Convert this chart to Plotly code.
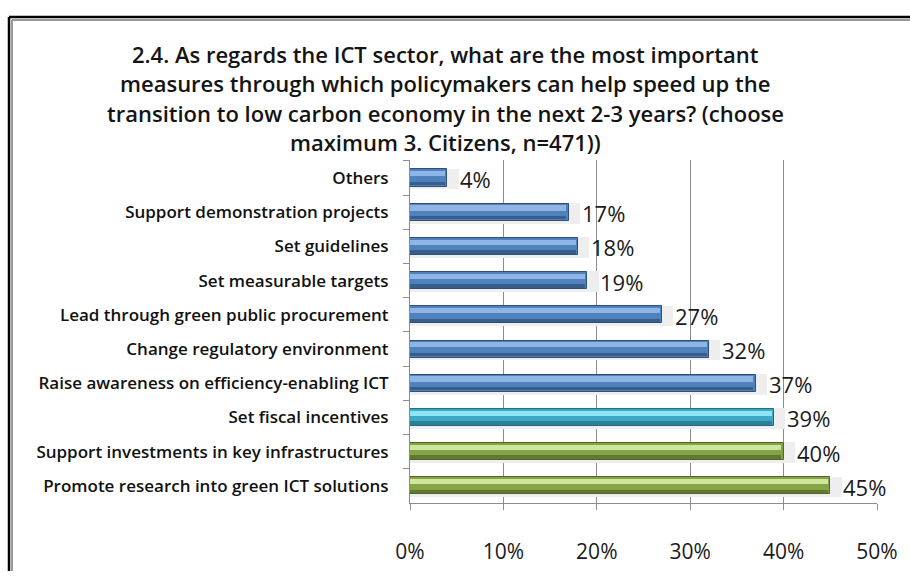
import plotly.graph_objects as go

# Survey answers, listed top to bottom as shown on the chart
categories = [
    "Others",
    "Support demonstration projects",
    "Set guidelines",
    "Set measurable targets",
    "Lead through green public procurement",
    "Change regulatory environment",
    "Raise awareness on efficiency-enabling ICT",
    "Set fiscal incentives",
    "Support investments in key infrastructures",
    "Promote research into green ICT solutions",
]
shares = [4, 17, 18, 19, 27, 32, 37, 39, 40, 45]
x_ticks = [0, 10, 20, 30, 40, 50]
x_tick_labels = ["0%", "10%", "20%", "30%", "40%", "50%"]
title_lines = [
    "2.4. As regards the ICT sector, what are the most important",
    "measures through which policymakers can help speed up the",
    "transition to low carbon economy in the next 2-3 years? (choose",
    "maximum 3. Citizens, n=471))",
]

# --- styling ---------------------------------------------------------------
FONT = "Open Sans, sans-serif"
W, H = 910, 577
M_L, M_R, M_T, M_B = 410, 33, 160, 69
plot_w = W - M_L - M_R
plot_h = H - M_T - M_B


def px_x(p):
    """page pixel x -> paper units"""
    return (p - M_L) / plot_w


def px_y(p):
    """page pixel y (from top) -> paper units"""
    return (H - M_B - p) / plot_h


palette = {
    "blue": dict(mid="#4f81bd", light="#8fb4e6", dark="#385d8a", edge="#2f4f77"),
    "cyan": dict(mid="#3fa9c5", light="#8fe4f5", dark="#2b7f96", edge="#236b7e"),
    "green": dict(mid="#86a34a", light="#cfe79a", dark="#5f7a2e", edge="#4e6626"),
}
bar_groups = ["blue"] * 7 + ["cyan"] + ["green"] * 2

fig = go.Figure()

# soft drop shadow behind each bar
fig.add_trace(go.Bar(
    y=categories, x=[v + 1.2 for v in shares], orientation="h",
    width=0.6, offset=-0.27,
    marker=dict(color="#eeeeee", line=dict(width=0)),
    hoverinfo="skip", showlegend=False,
))
# main body
fig.add_trace(go.Bar(
    y=categories, x=shares, orientation="h",
    width=0.5, offset=-0.25,
    marker=dict(color=[palette[g]["mid"] for g in bar_groups],
                line=dict(color=[palette[g]["edge"] for g in bar_groups], width=1)),
    showlegend=False,
))
# light upper bevel
fig.add_trace(go.Bar(
    y=categories, x=[v - 0.25 for v in shares], orientation="h",
    width=0.15, offset=-0.2,
    marker=dict(color=[palette[g]["light"] for g in bar_groups], line=dict(width=0)),
    hoverinfo="skip", showlegend=False,
))
# darker lower bevel
fig.add_trace(go.Bar(
    y=categories, x=[v - 0.25 for v in shares], orientation="h",
    width=0.1, offset=0.11,
    marker=dict(color=[palette[g]["dark"] for g in bar_groups], line=dict(width=0)),
    hoverinfo="skip", showlegend=False,
))

# value labels to the right of each bar
for cat, v in zip(categories, shares):
    fig.add_annotation(
        x=v, y=cat, xref="x", yref="y", text=f"{v}%",
        showarrow=False, xanchor="left", yanchor="middle", xshift=11, yshift=-1,
        font=dict(family=FONT, size=22, color="#1a1a1a"),
    )

# title, one annotation per line for even spacing
for i, line in enumerate(title_lines):
    fig.add_annotation(
        x=px_x(445), y=px_y(52 + 30 * i), xref="paper", yref="paper",
        text=line, showarrow=False, xanchor="center", yanchor="middle",
        font=dict(family=FONT, size=22, color="#141414", weight=600),
    )

fig.update_layout(
    width=W, height=H,
    margin=dict(l=M_L, r=M_R, t=M_T, b=M_B),
    paper_bgcolor="white", plot_bgcolor="white",
    barmode="overlay",
    bargap=0,
    xaxis=dict(
        range=[0, 50], tickvals=x_ticks, ticktext=x_tick_labels,
        showgrid=True, gridcolor="#8c8c8c", gridwidth=1,
        showline=True, linecolor="#8c8c8c", linewidth=1,
        ticks="outside", ticklen=6, tickcolor="#8c8c8c",
        ticklabelstandoff=24,
        tickfont=dict(family=FONT, size=21, color="#1a1a1a"),
        zeroline=False, fixedrange=True,
    ),
    yaxis=dict(
        autorange="reversed", showgrid=False,
        showline=True, linecolor="#8c8c8c", linewidth=1,
        ticks="outside", ticklen=6, tickcolor="#8c8c8c", tickson="boundaries",
        tickfont=dict(family=FONT, size=17, color="#111111", weight=600),
        ticklabelstandoff=17,
        fixedrange=True,
    ),
)

# chart frame: black outer rule with a grey inner rule along the top and left
frame_rules = [
    (9, 15, "#000000", 2.5),
    (12, 18, "#999999", 2),
]
for left, top, color, lw in frame_rules:
    fig.add_shape(type="line", xref="paper", yref="paper",
                  x0=px_x(left), x1=px_x(W), y0=px_y(top), y1=px_y(top),
                  line=dict(color=color, width=lw))
    fig.add_shape(type="line", xref="paper", yref="paper",
                  x0=px_x(left), x1=px_x(left), y0=px_y(top), y1=px_y(H),
                  line=dict(color=color, width=lw))

# keep the page itself from scrolling
fig.write_html(
    "out.html",
    config={"displayModeBar": False},
    post_script="document.body.style.margin='0';document.body.style.overflow='hidden';",
)
